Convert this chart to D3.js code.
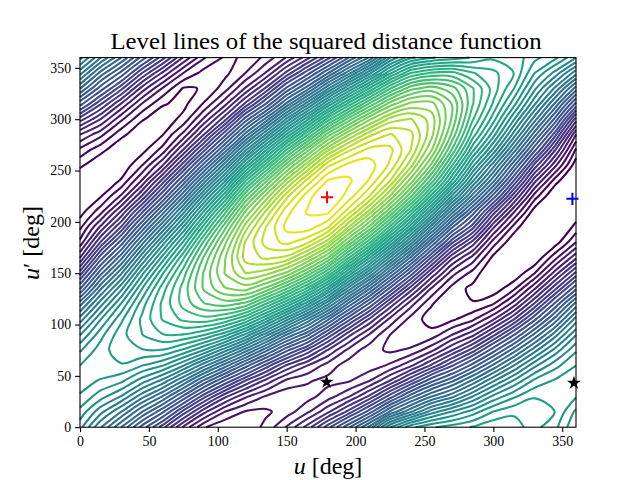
<!DOCTYPE html>
<html>
<head>
<meta charset="utf-8">
<script src="https://cdnjs.cloudflare.com/ajax/libs/d3/7.8.5/d3.min.js"></script>
<style>
  html, body { margin: 0; padding: 0; background: #fff; }
  text { font-family: "Liberation Serif", serif; fill: #000; }
</style>
</head>
<body>
<div id="chart"></div>
<script>
// Level number at every 15 deg of u (columns) and u' (rows), estimated by eye
// from where the contour lines cross the picture. Bottom row first.
const gridStep = 15;
const levelGrid = [
  [23.0,19.2,15.7,11.8,8.4,4.8,2.1,1.1,1.2,2.3,4.1,6.4,9.6,13.2,17.2,22.5,25.7,27.0,27.7,28.4,29.2,29.0,27.5,26.3,23.8],
  [24.5,21.8,19.1,15.7,12.5,8.6,5.3,3.0,1.9,1.8,2.5,3.8,5.8,8.4,11.7,15.9,19.0,22.0,23.8,25.4,27.2,28.0,28.1,27.1,24.6],
  [25.9,24.2,22.5,19.6,16.8,13.2,9.4,6.3,4.2,2.9,2.3,2.6,3.5,4.9,7.2,10.5,14.0,16.8,18.8,21.4,24.0,25.8,27.0,27.1,26.1],
  [26.4,25.9,25.1,23.1,21.0,17.9,14.2,10.9,7.9,5.6,3.7,3.1,2.7,2.9,4.0,6.1,8.9,12.0,14.4,17.2,20.2,22.8,25.2,26.2,26.4],
  [26.0,26.7,27.0,26.0,24.9,22.6,19.5,16.3,12.8,9.6,6.8,5.0,3.5,2.5,2.4,3.2,4.8,7.2,9.9,12.8,16.0,19.2,22.3,24.5,26.0],
  [24.7,26.6,27.9,28.2,28.2,26.9,24.8,21.9,18.6,14.9,11.4,8.7,5.9,3.7,2.4,1.8,2.2,3.7,6.0,8.5,11.8,15.2,18.7,21.9,24.7],
  [22.5,25.6,27.9,29.4,30.5,30.5,29.5,27.6,24.6,20.8,16.8,13.7,9.7,6.3,3.9,2.0,1.1,1.4,3.0,4.7,7.7,11.1,14.9,18.7,22.5],
  [19.7,23.7,26.9,29.7,31.8,33.1,33.5,32.6,30.5,27.0,22.9,18.9,14.7,10.3,6.8,3.7,1.6,0.5,0.8,1.8,3.9,7.0,10.9,15.1,19.7],
  [16.4,21.0,25.0,28.9,32.0,34.4,36.2,36.8,35.9,32.8,29.3,25.2,20.5,15.3,10.9,6.7,3.4,1.1,0,0.08,0.97,3.5,7.2,11.5,16.2],
  [12.2,17.8,22.3,27.1,31.2,34.5,37.6,39.6,40.2,38.3,35.2,31.4,26.6,20.9,15.9,10.8,6.5,2.9,0.6,-0.3,-0.68,0.8,3.9,7.8,12.0],
  [8.5,14.2,19.0,24.5,29.3,33.5,37.6,40.9,43.0,42.4,40.6,37.2,32.8,26.9,21.5,15.8,10.6,5.9,2.4,0.6,-1.1,-0.85,1.0,4.5,8.3],
  [5.0,10.6,15.4,21.2,26.5,31.5,36.5,40.7,44.4,45.2,44.7,42.2,38.5,32.9,27.3,21.3,15.5,9.9,5.2,2.6,-0.33,-1.5,-0.9,1.7,4.8],
  [2.3,7.1,11.7,17.5,23.1,28.5,34.3,39.4,44.1,46.4,47.3,46.2,43.4,38.3,33.1,27.0,20.9,14.6,9.2,5.6,1.5,-0.98,-1.85,-0.5,2.0],
  [0.7,4.2,8.1,13.6,19.2,24.9,31.1,37.0,42.5,46.0,48.3,48.6,47.1,43.0,38.3,32.6,26.4,19.8,13.6,9.4,4.2,0.6,-1.7,-1.7,0.4],
  [-0.5,1.6,5.1,9.7,15.1,21.0,27.3,33.5,39.8,44.2,47.7,49.1,49.25,46.5,42.7,37.6,31.6,25.1,18.5,13.0,7.6,3.1,-0.6,-2,-0.8],
  [-1.3,-0.1,2.2,6.1,11.0,16.7,23.1,29.2,36.1,41.3,45.7,48.6,50.1,48.6,46.0,41.9,36.5,30.2,23.5,17.5,11.8,6.3,1.5,-1.26,-1.9],
  [-0.9,-1.1,0.15,3.1,7.4,12.5,18.5,24.6,31.6,37.2,42.4,46.4,49.1,49.2,47.9,45.0,40.4,34.7,28.2,21.6,16.0,9.9,4.3,0.45,-1.7],
  [0.2,-0.85,-0.85,1.0,4.0,8.6,14.0,19.8,26.4,32.3,38.1,42.8,46.8,48.4,48.5,46.8,43.4,38.3,31.8,25.2,19.6,13.6,7.6,3.2,-0.7],
  [1.7,0.3,-0.8,-0.4,1.4,5.1,9.7,15.0,21.2,27.0,33.0,38.2,42.9,45.8,47.4,47.3,45.0,41.0,35.0,28.6,23.4,17.4,11.4,6.0,0.8],
  [4.0,2.3,0.25,-0.75,-0.05,2.3,6.0,10.7,16.1,21.5,27.3,32.7,38.0,41.9,44.7,46.1,45.3,42.4,37.2,31.2,26.5,20.9,15.0,9.3,3.0],
  [7.5,5.0,2.2,0.1,-0.6,0.3,3.2,6.6,11.6,16.1,21.7,26.8,32.3,36.8,40.6,43.4,44.1,42.6,38.4,33.0,28.8,23.8,18.5,13.0,6.5],
  [11.6,8.1,4.9,1.95,0.1,-0.3,1.1,3.6,7.2,11.2,16.0,20.9,26.2,31.0,35.3,39.1,41.2,41.3,38.5,34.1,30.4,26.4,21.6,16.6,10.8],
  [15.8,11.7,8.3,4.6,1.9,-0.1,0.05,1.5,4.1,7.2,11.4,15.2,20.1,24.9,29.5,33.9,37.0,38.0,36.8,34.1,31.2,28.3,24.0,20.0,15.2],
  [19.6,15.3,11.9,8.0,4.8,2.0,0.6,0.7,2.0,4.1,7.3,10.6,14.5,18.7,23.3,28.0,31.7,33.0,33.2,31.8,30.9,29.4,26.0,23.3,19.6],
  [23.0,19.2,15.7,11.8,8.4,4.9,2.1,0.85,1.1,2.3,4.1,6.6,9.6,13.4,17.0,22.5,25.7,27.0,27.7,28.4,29.2,29.0,27.5,26.3,23.8]
];

// one line per level: tight at both ends, wider steps on the steep slopes
const contourLevels = [0,1,2,3,4,5,6,7,8,9,10,
  11.14,12.29,13.43,14.57,15.71,16.86,18,19.14,20.29,21.43,22.57,23.71,24.86,26,
  27.14,28.29,29.43,30.57,31.71,32.86,34,35.14,36.29,37.43,38.57,39.71,40.86,42,
  43,44,45,46,47,48,49];
const tickValues = [0, 50, 100, 150, 200, 250, 300, 350];

// the four marked points
const maxPoint = [[179.3, 224]];
const saddlePoint = [[357.4, 222.4]];
const starPoints = [[179, 44], [358.5, 43]];

const width = 640, height = 480;
const margins = {top: 57.6, right: 64, bottom: 52.8, left: 80};

const svg = d3.select('#chart').append('svg')
    .attr('width', width)
    .attr('height', height);

const x = d3.scaleLinear().domain([0, 360]).range([margins.left, width - margins.right]);
const y = d3.scaleLinear().domain([0, 360]).range([height - margins.bottom, margins.top]);

const gridCols = levelGrid[0].length, gridRows = levelGrid.length;
const contours = d3.contours()
    .size([gridCols, gridRows])
    .thresholds(contourLevels)(levelGrid.flat());

// d3.contours puts grid value i at coordinate i + 0.5 and closes its polygons
// outside the grid, so cut every ring into the runs that stay on the grid
function insideGrid(p) {
    return p[0] >= 0.5 - 1e-6 && p[0] <= gridCols - 0.5 + 1e-6 &&
           p[1] >= 0.5 - 1e-6 && p[1] <= gridRows - 0.5 + 1e-6;
}

function ringPieces(ring) {
    const pts = ring.slice(0, -1);
    const firstOut = pts.findIndex(p => !insideGrid(p));
    if (firstOut < 0) return [{points: pts, closed: true}];
    const pieces = [];
    let run = [];
    for (let i = 0; i < pts.length; i++) {
        const p = pts[(firstOut + i) % pts.length];
        if (insideGrid(p)) {
            run.push(p);
        } else {
            if (run.length > 1) pieces.push({points: run, closed: false});
            run = [];
        }
    }
    if (run.length > 1) pieces.push({points: run, closed: false});
    return pieces;
}

const openLine = d3.line()
    .x(p => x((p[0] - 0.5) * gridStep))
    .y(p => y((p[1] - 0.5) * gridStep))
    .curve(d3.curveCatmullRom.alpha(0.5));
const closedLine = d3.line()
    .x(p => x((p[0] - 0.5) * gridStep))
    .y(p => y((p[1] - 0.5) * gridStep))
    .curve(d3.curveCatmullRomClosed.alpha(0.5));

const levelGroups = svg.append('g')
  .selectAll('g')
  .data(contours)
  .enter().append('g')
    .attr('stroke', (d, i) => d3.interpolateViridis(i / 46))
    .attr('stroke-width', 2.08)
    .attr('fill', 'none');

levelGroups.selectAll('path')
    .data(d => d.coordinates.flat().flatMap(ringPieces))
  .enter().append('path')
    .attr('d', d => d.closed ? closedLine(d.points) : openLine(d.points));

// axes
const xAxis = svg.append('g')
    .attr('transform', 'translate(0,' + (height - margins.bottom) + ')')
    .call(d3.axisBottom(x).tickValues(tickValues).tickSize(4.9).tickPadding(4));
const yAxis = svg.append('g')
    .attr('transform', 'translate(' + margins.left + ',0)')
    .call(d3.axisLeft(y).tickValues(tickValues).tickSize(4.9).tickPadding(4));

[xAxis, yAxis].forEach(axis => {
    axis.selectAll('.domain').remove();
    axis.selectAll('line').attr('stroke', '#000').attr('stroke-width', 1.1);
    axis.selectAll('text')
        .style('font-family', '"Liberation Serif", serif')
        .style('font-size', '13.9px');
});

// frame
svg.append('rect')
    .attr('x', margins.left)
    .attr('y', margins.top)
    .attr('width', width - margins.left - margins.right)
    .attr('height', height - margins.top - margins.bottom)
    .attr('fill', 'none')
    .attr('stroke', '#000')
    .attr('stroke-width', 1.1);

// markers
const plusShape = d3.symbol().type(d3.symbolPlus).size(50);
const starShape = d3.symbol().type(d3.symbolStar).size(60);

svg.selectAll('.maxMark').data(maxPoint)
  .enter().append('path')
    .attr('class', 'maxMark')
    .attr('d', plusShape)
    .attr('transform', d => 'translate(' + x(d[0]) + ',' + y(d[1]) + ')')
    .attr('fill', 'none')
    .attr('stroke', '#ff0000')
    .attr('stroke-width', 2);

svg.selectAll('.saddleMark').data(saddlePoint)
  .enter().append('path')
    .attr('class', 'saddleMark')
    .attr('d', plusShape)
    .attr('transform', d => 'translate(' + x(d[0]) + ',' + y(d[1]) + ')')
    .attr('fill', 'none')
    .attr('stroke', '#0000ff')
    .attr('stroke-width', 2);

svg.selectAll('.starMark').data(starPoints)
  .enter().append('path')
    .attr('class', 'starMark')
    .attr('d', starShape)
    .attr('transform', d => 'translate(' + x(d[0]) + ',' + y(d[1]) + ')')
    .attr('fill', '#000');

// title and axis labels
svg.append('text')
    .attr('x', 326)
    .attr('y', 49)
    .attr('text-anchor', 'middle')
    .attr('textLength', 431)
    .attr('lengthAdjust', 'spacingAndGlyphs')
    .style('font-size', '24px')
    .text('Level lines of the squared distance function');

const xLabel = svg.append('text')
    .attr('x', 328)
    .attr('y', 474)
    .attr('text-anchor', 'middle')
    .style('font-size', '24px');
xLabel.append('tspan').style('font-style', 'italic').text('u');
xLabel.append('tspan').text(' [deg]');

const yLabel = svg.append('text')
    .attr('transform', 'translate(39,243) rotate(-90)')
    .attr('text-anchor', 'middle')
    .style('font-size', '24px');
yLabel.append('tspan').style('font-style', 'italic').text('u');
yLabel.append('tspan').text('\u2032 [deg]');
</script>
</body>
</html>
